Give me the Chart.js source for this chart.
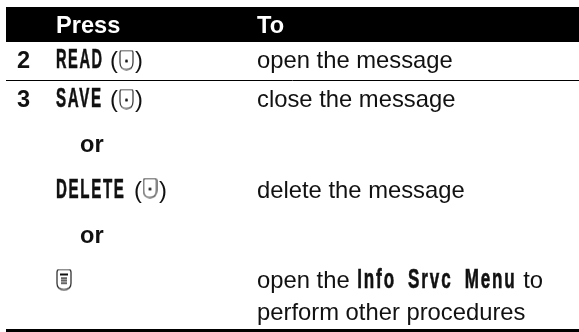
<!DOCTYPE html>
<html>
<head>
<meta charset="utf-8">
<style>html,body{margin:0;padding:0;background:#fff}canvas{display:block}</style>
<script src="https://cdn.jsdelivr.net/npm/chart.js@4/dist/chart.umd.min.js"></script>
</head>
<body>
<canvas id="c" width="579" height="332"></canvas>
<script>
const headers = ["Press", "To"];
const stepLabels = ["2", "3"];
const softKeys = ["READ", "SAVE", "DELETE"];
const connector = "or";
const actions = ["open the message", "close the message", "delete the message"];
const menuLine1 = ["open the ", "Info Srvc Menu", " to"];
const menuLine2 = "perform other procedures";

const SANS = '"Liberation Sans", Arial, sans-serif';
const BODY = '23.8px ' + SANS;
const BOLD = 'bold 23.6px ' + SANS;
const COL = {step: 17, press: 56, or: 80, to: 257};

function softKeyIcon() {
  const c = document.createElement('canvas'); c.width = 15; c.height = 21;
  const x = c.getContext('2d');
  x.strokeStyle = '#222'; x.lineWidth = 1.1;
  x.beginPath();
  x.moveTo(3, 1); x.lineTo(12, 1); x.quadraticCurveTo(14, 1, 14, 3);
  x.lineTo(14, 13); x.quadraticCurveTo(14, 20, 7.5, 20); x.quadraticCurveTo(1, 20, 1, 13);
  x.lineTo(1, 3); x.quadraticCurveTo(1, 1, 3, 1); x.closePath(); x.stroke();
  x.fillStyle = '#111'; x.beginPath(); x.arc(7.5, 11.5, 1.5, 0, Math.PI * 2); x.fill();
  return c;
}
function menuIcon() {
  const c = document.createElement('canvas'); c.width = 16; c.height = 22;
  const x = c.getContext('2d');
  x.strokeStyle = '#222'; x.lineWidth = 1.2;
  x.beginPath();
  x.moveTo(3.5, 1); x.lineTo(12.5, 1); x.quadraticCurveTo(15, 1, 15, 3.5);
  x.lineTo(15, 15); x.quadraticCurveTo(15, 21, 8, 21); x.quadraticCurveTo(1, 21, 1, 15);
  x.lineTo(1, 3.5); x.quadraticCurveTo(1, 1, 3.5, 1); x.closePath(); x.stroke();
  x.fillStyle = '#111';
  x.fillRect(4, 5, 8, 2); x.fillRect(5, 9, 6, 1.3); x.fillRect(5, 11.5, 6, 1.3); x.fillRect(5, 14, 6, 1.3);
  return c;
}

const softKeyImg = softKeyIcon(), menuImg = menuIcon();

function rule(y, w) {
  return {type: 'line', data: [{x: 6, y}, {x: 579, y}], borderColor: '#000', borderWidth: w,
    pointRadius: 0, borderCapStyle: 'butt', order: 5};
}

const textPlugin = {
  id: 'tableText',
  afterDatasetsDraw(chart) {
    const {ctx, scales: {x: sx, y: sy}} = chart;
    const put = (s, x, y, font, col) => {
      ctx.font = font; ctx.fillStyle = col || '#111';
      ctx.fillText(s, sx.getPixelForValue(x), sy.getPixelForValue(y));
      return x + ctx.measureText(s).width;
    };
    const display = (s, x, y, sc, wordGap) => {
      ctx.save();
      ctx.translate(sx.getPixelForValue(x), sy.getPixelForValue(y));
      ctx.scale(sc, 1);
      ctx.font = 'bold 27.5px ' + SANS;
      ctx.letterSpacing = '3px';
      ctx.wordSpacing = wordGap + 'px';
      ctx.fillStyle = '#111';
      ctx.strokeStyle = '#111';
      ctx.lineWidth = 0.6;
      ctx.fillText(s, 0, 0);
      ctx.strokeText(s, 0, 0);
      const w = ctx.measureText(s).width * sc;
      ctx.restore();
      return x + w;
    };
    ctx.save();
    ctx.textBaseline = 'alphabetic'; ctx.textAlign = 'left';
    put(headers[0], COL.press, 33, BOLD, '#fff');
    put(headers[1], COL.to, 33, BOLD, '#fff');
    put(stepLabels[0], COL.step, 68, BOLD);
    put(stepLabels[1], COL.step, 107, BOLD);
    display(softKeys[0], COL.press, 68, 0.53, 0);
    display(softKeys[1], COL.press, 107, 0.55, 0);
    display(softKeys[2], COL.press, 198, 0.55, 0);
    put('(', 110, 68, BODY); put(')', 135, 68, BODY);
    put('(', 110, 107, BODY); put(')', 135, 107, BODY);
    put('(', 134, 198, BODY); put(')', 159, 198, BODY);
    put(connector, COL.or, 152, BOLD);
    put(connector, COL.or, 243, BOLD);
    put(actions[0], COL.to, 68, BODY);
    put(actions[1], COL.to, 107, BODY);
    put(actions[2], COL.to, 198, BODY);
    let cx = put(menuLine1[0], COL.to, 288, BODY);
    cx = display(menuLine1[1], cx + 1, 288, 0.62, 9);
    put(menuLine1[2], cx, 288, BODY);
    put(menuLine2, COL.to, 320, BODY);
    ctx.restore();
  }
};

new Chart(document.getElementById('c'), {
  type: 'scatter',
  data: {datasets: [
    rule(24.5, 35),
    rule(80.5, 1),
    rule(330.5, 3),
    {type: 'scatter', data: [{x: 126.5, y: 60}, {x: 126.5, y: 99}, {x: 150, y: 188}],
      pointStyle: softKeyImg, pointRadius: 8, order: 1},
    {type: 'scatter', data: [{x: 64, y: 279.5}],
      pointStyle: menuImg, pointRadius: 8, order: 1}
  ]},
  options: {
    responsive: false, animation: false, events: [],
    layout: {padding: 0, autoPadding: false},
    plugins: {legend: {display: false}, tooltip: {enabled: false}, title: {display: false}},
    scales: {
      x: {type: 'linear', min: 0, max: 579, display: false},
      y: {type: 'linear', min: 0, max: 332, reverse: true, display: false}
    }
  },
  plugins: [textPlugin]
});
</script>
</body>
</html>
